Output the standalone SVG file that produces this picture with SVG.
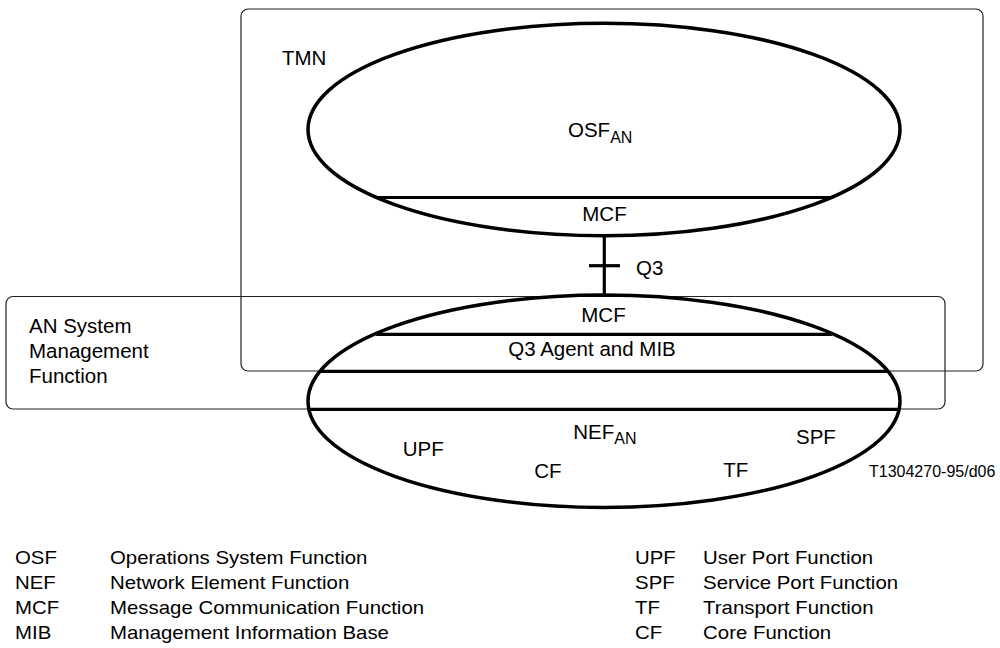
<svg xmlns="http://www.w3.org/2000/svg" width="1000" height="648" viewBox="0 0 1000 648">
  <style>
    text { font-family: "Liberation Sans", Arial, sans-serif; fill: #000; }
    .lbl { font-size: 20.5px; }
    .sub { font-size: 16px; }
    .leg { font-size: 18px; }
    .box { fill: none; stroke: #222; stroke-width: 1.2; }
    .ell { fill: none; stroke: #000; stroke-width: 3.5; }
    .bar { stroke: #000; stroke-width: 3.2; }
    .wire { stroke: #000; stroke-width: 3.2; fill: none; }
  </style>
  <rect width="1000" height="648" fill="#fff"/>

  <g id="tmn">
    <rect class="box" x="241" y="9" width="742" height="362" rx="7" ry="7"/>
    <text class="lbl" x="282" y="65">TMN</text>
  </g>

  <g id="an-system-management">
    <rect class="box" x="6" y="296.5" width="939" height="112.5" rx="7" ry="7"/>
    <text class="lbl" x="29" y="333.3">AN System</text>
    <text class="lbl" x="29" y="358.3">Management</text>
    <text class="lbl" x="29" y="383.3">Function</text>
  </g>

  <g id="osf-an">
    <ellipse class="ell" cx="604" cy="129.5" rx="296" ry="106.2"/>
    <line class="bar" x1="377" y1="197.5" x2="831" y2="197.5"/>
    <text class="lbl" x="568" y="137">OSF<tspan class="sub" dy="6">AN</tspan></text>
    <text class="lbl" x="604.5" y="221" text-anchor="middle">MCF</text>
  </g>

  <g id="nef-an">
    <ellipse class="ell" cx="604" cy="401.2" rx="296" ry="106.2"/>
    <line class="bar" x1="376" y1="334.3" x2="832" y2="334.3"/>
    <line class="bar" x1="320" y1="371.3" x2="888" y2="371.3"/>
    <line class="bar" x1="308" y1="409.3" x2="899" y2="409.3"/>
    <text class="lbl" x="603.5" y="321.7" text-anchor="middle">MCF</text>
    <text class="lbl" x="592" y="355.5" text-anchor="middle">Q3 Agent and MIB</text>
    <text class="lbl" x="573.3" y="439">NEF<tspan class="sub" dy="4.5">AN</tspan></text>
    <text class="lbl" x="402.7" y="456">UPF</text>
    <text class="lbl" x="534.3" y="478.3">CF</text>
    <text class="lbl" x="796" y="444.3">SPF</text>
    <text class="lbl" x="723.3" y="476.7">TF</text>
  </g>

  <g id="connectors">
    <line class="wire" x1="604.3" y1="235.7" x2="604.3" y2="296"/>
    <line class="wire" x1="589" y1="265.7" x2="620" y2="265.7"/>
    <text class="lbl" x="636" y="275">Q3</text>
  </g>

  <g id="figure-id">
    <text x="869" y="476.7" style="font-size:16px">T1304270-95/d06</text>
  </g>

  <g id="legend" transform="scale(1.134 1)">
    <text class="leg" x="13.2" y="564">OSF</text>
    <text class="leg" x="97" y="564">Operations System Function</text>
    <text class="leg" x="13.2" y="589">NEF</text>
    <text class="leg" x="97" y="589">Network Element Function</text>
    <text class="leg" x="13.2" y="614">MCF</text>
    <text class="leg" x="97" y="614">Message Communication Function</text>
    <text class="leg" x="13.2" y="639">MIB</text>
    <text class="leg" x="97" y="639">Management Information Base</text>
    <text class="leg" x="560" y="564">UPF</text>
    <text class="leg" x="620" y="564">User Port Function</text>
    <text class="leg" x="560" y="589">SPF</text>
    <text class="leg" x="620" y="589">Service Port Function</text>
    <text class="leg" x="560" y="614">TF</text>
    <text class="leg" x="620" y="614">Transport Function</text>
    <text class="leg" x="560" y="639">CF</text>
    <text class="leg" x="620" y="639">Core Function</text>
  </g>
</svg>
